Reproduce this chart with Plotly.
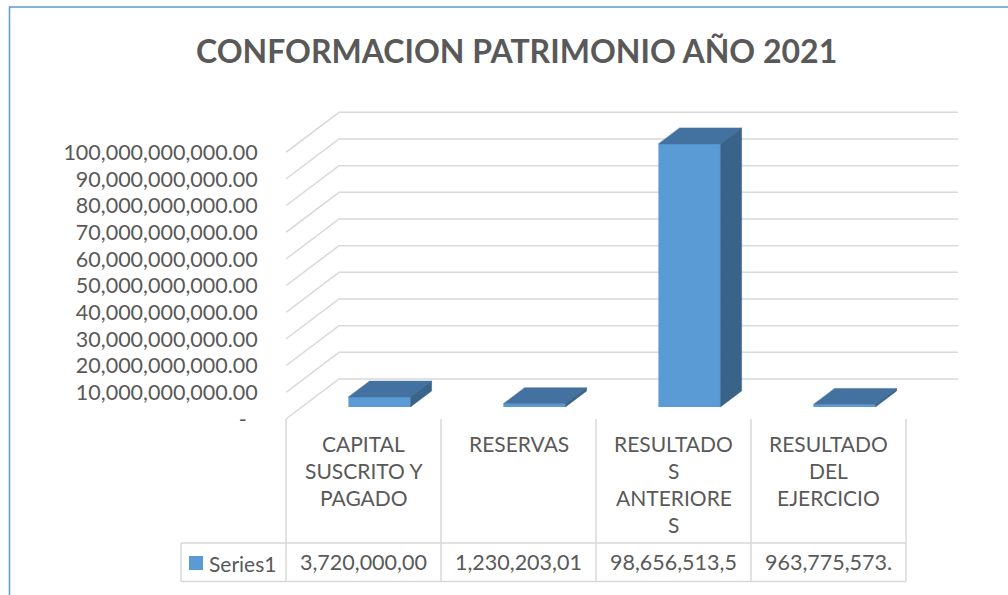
import plotly.graph_objects as go

# ---------------- data ----------------
title_text = "CONFORMACION PATRIMONIO AÑO 2021"
categories = ["CAPITAL\nSUSCRITO Y\nPAGADO", "RESERVAS",
              "RESULTADO\nS\nANTERIORE\nS", "RESULTADO\nDEL\nEJERCICIO"]
values = [3720000000.00, 1230203010.00, 98656513500.00, 963775573.00]
table_text = ["3,720,000,00", "1,230,203,01", "98,656,513,5", "963,775,573."]
series_name = "Series1"
y_ticks = [0, 10e9, 20e9, 30e9, 40e9, 50e9, 60e9, 70e9, 80e9, 90e9, 100e9]
y_ticktext = ["-\u00a0\u00a0"] + [f"{v:,.2f}" for v in y_ticks[1:]]

# ---------------- geometry / style ----------------
W, H = 1008, 595
L, R, T, B = 286, 50, 100, 5
PW, PH = W - L - R, H - T - B
CAT_PX = 155.0                 # pixels per category
Y_PX_PER = 26.67 / 10e9        # pixels per unit value
Y0_PX = 419.0                  # pixel row of value 0 on front plane
DX = 53.0 / CAT_PX             # floor depth (x, data units)
DY = 40.0 / Y_PX_PER           # floor depth (y, data units)
A_FRONT, A_BACK = 0.30, 0.70   # bar front / back depth fractions
BW = 0.40                      # bar width (category units)

FRONT = "#5B9BD5"
TOP = "#4472A0"
SIDE = "#3A6389"
GRID = "#D9D9D9"
TXT = "#595959"
FONT = "Lato"
FS = 21.5

n = len(categories)
x_range = [-0.5, -0.5 + PW / CAT_PX]
y_range = [-(H - B - Y0_PX) / Y_PX_PER, (Y0_PX - T) / Y_PX_PER]


def pxp(px):   # pixel x -> paper
    return (px - L) / PW


def pyp(py):   # pixel y -> paper
    return (H - B - py) / PH


def col_px(i):  # category index -> pixel x of center (front plane)
    return L + (i + 0.5) * CAT_PX


fig = go.Figure()

# front faces of bars
xs = [i + A_FRONT * DX for i in range(n)]
fig.add_trace(go.Bar(x=xs, y=values, base=A_FRONT * DY, width=BW,
                     marker=dict(color=FRONT, line=dict(width=0)),
                     name=series_name, showlegend=False, hoverinfo="skip"))

# top and side faces
ddx = (A_BACK - A_FRONT) * DX
ddy = (A_BACK - A_FRONT) * DY
for xc, v in zip(xs, values):
    xl, xr = xc - BW / 2, xc + BW / 2
    yf0, yf1 = A_FRONT * DY, A_FRONT * DY + v
    fig.add_trace(go.Scatter(
        x=[xl, xr, xr + ddx, xl + ddx, xl],
        y=[yf1, yf1, yf1 + ddy, yf1 + ddy, yf1],
        fill="toself", fillcolor=TOP, mode="lines",
        line=dict(width=0.5, color=TOP), showlegend=False, hoverinfo="skip"))
    fig.add_trace(go.Scatter(
        x=[xr, xr, xr + ddx, xr + ddx, xr],
        y=[yf0, yf1, yf1 + ddy, yf0 + ddy, yf0],
        fill="toself", fillcolor=SIDE, mode="lines",
        line=dict(width=0.5, color=SIDE), showlegend=False, hoverinfo="skip"))

shapes = []
# back-wall gridlines + side wall diagonals
for v in y_ticks:
    shapes.append(dict(
        type="path", xref="x", yref="y", layer="below",
        path=f"M {-0.5},{v} L {-0.5 + DX},{v + DY} L {n - 0.5 + DX},{v + DY}",
        line=dict(color=GRID, width=1.5)))

# data table lines
tbl_top, row_y, tbl_bot = 419, 543, 581.5
leg_left = 181
for i in range(n + 1):
    xp = pxp(L + i * CAT_PX)
    shapes.append(dict(type="line", xref="paper", yref="paper",
                       x0=xp, x1=xp, y0=pyp(tbl_top), y1=pyp(tbl_bot),
                       line=dict(color=GRID, width=1.5)))
for yy in (row_y, tbl_bot):
    shapes.append(dict(type="line", xref="paper", yref="paper",
                       x0=pxp(leg_left), x1=pxp(L + n * CAT_PX),
                       y0=pyp(yy), y1=pyp(yy), line=dict(color=GRID, width=1.5)))
shapes.append(dict(type="line", xref="paper", yref="paper",
                   x0=pxp(leg_left), x1=pxp(leg_left),
                   y0=pyp(row_y), y1=pyp(tbl_bot),
                   line=dict(color=GRID, width=1.5)))
# legend key
shapes.append(dict(type="rect", xref="paper", yref="paper",
                   x0=pxp(189), x1=pxp(203), y0=pyp(556), y1=pyp(570),
                   fillcolor=FRONT, line=dict(width=0)))
# chart border
shapes.append(dict(type="rect", xref="paper", yref="paper",
                   x0=pxp(9.5), x1=pxp(1012), y0=pyp(7), y1=pyp(600),
                   line=dict(color="#5B9BD5", width=1.5)))

annotations = []
for i, cat in enumerate(categories):
    for k, line in enumerate(cat.split("\n")):
        annotations.append(dict(
            xref="paper", yref="paper", x=pxp(col_px(i)), y=pyp(443 + 27 * k),
            text=line, showarrow=False, xanchor="center", yanchor="middle",
            font=dict(family=FONT, size=21, color=TXT)))
    annotations.append(dict(
        xref="paper", yref="paper", x=pxp(col_px(i)), y=pyp(562),
        text=table_text[i], showarrow=False, xanchor="center", yanchor="middle",
        font=dict(family=FONT, size=FS, color=TXT)))
annotations.append(dict(
    xref="paper", yref="paper", x=pxp(207), y=pyp(563),
    text=series_name, showarrow=False, xanchor="left", yanchor="middle",
    font=dict(family=FONT, size=21, color=TXT)))
annotations.append(dict(
    xref="paper", yref="paper", x=pxp(516), y=pyp(51),
    text="<b>" + title_text + "</b>", showarrow=False,
    xanchor="center", yanchor="middle",
    font=dict(family=FONT, size=32, color=TXT)))

fig.update_layout(
    width=W, height=H, autosize=False,
    margin=dict(l=L, r=R, t=T, b=B, pad=0),
    paper_bgcolor="white", plot_bgcolor="white",
    showlegend=False,
    shapes=shapes, annotations=annotations,
    xaxis=dict(range=x_range, showticklabels=False, showgrid=False,
               zeroline=False, showline=False, fixedrange=True),
    yaxis=dict(range=y_range, tickvals=y_ticks, ticktext=y_ticktext,
               ticks="outside", ticklen=23, tickcolor="rgba(0,0,0,0)",
               showgrid=False, zeroline=False, showline=False,
               tickfont=dict(family=FONT, size=FS, color=TXT),
               fixedrange=True),
)

fig.write_html("out.html", config={"displayModeBar": False},
               post_script="document.body.style.margin='0';"
                           "document.body.style.overflow='hidden';")
